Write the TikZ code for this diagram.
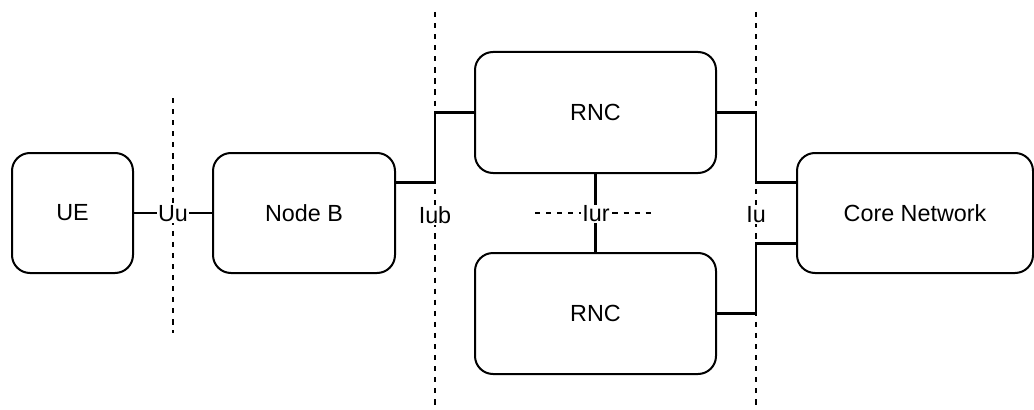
\documentclass[tikz,border=0pt]{standalone}
\usepackage{fontspec}
\setmainfont{Liberation Sans}
\usetikzlibrary{calc}
\begin{document}
\begin{tikzpicture}[x=0.75pt,y=-0.75pt,
  box/.style={draw=black,line width=1.5pt,rounded corners=13.5pt,fill=white,
    align=center,inner sep=0pt,font=\fontsize{17.5}{21}\selectfont},
  conn/.style={draw=black,line width=1.8pt},
  divider/.style={draw=black,line width=1.4pt,dash pattern=on 3.9pt off 4.4pt},
  lbl/.style={fill=white,inner sep=0.8pt,font=\fontsize{17.5}{21}\selectfont}]
\useasboundingbox (0,0) rectangle (1034,410);

% interface boundaries
\coordinate (uuT) at (173,98);  \coordinate (uuB) at (173,333);
\coordinate (iubT) at (435,12); \coordinate (iubB) at (435,410);
\coordinate (iuT) at (756,12);  \coordinate (iuB) at (756,410);
\coordinate (iurL) at (535,213); \coordinate (iurR) at (652,213);
\draw[divider] (uuT) -- (uuB);
\draw[divider] (iubT) -- (iubB);
\draw[divider] (iuT) -- (iuB);
\draw[divider] (iurL) -- (iurR);

% network elements
\node[box,minimum width=90.75pt,minimum height=90pt] (ue) at (72.5,213) {UE};
\node[box,minimum width=136.5pt,minimum height=90pt] (nodeb) at (304,213) {Node B};
\node[box,minimum width=180.75pt,minimum height=90.75pt] (rnc1) at (595.5,112.5) {RNC};
\node[box,minimum width=180.75pt,minimum height=90.75pt] (rnc2) at (595.5,313.5) {RNC};
\node[box,minimum width=177pt,minimum height=90pt] (cn) at (915,213) {Core Network};

% links
\draw[conn] (ue.east) -- (nodeb.west);
\draw[conn] ($(nodeb.north east)!0.25!(nodeb.south east)$) -| (rnc1.west -| iubT) -- (rnc1.west);
\draw[conn] (rnc1.south) -- (rnc2.north);
\draw[conn] (rnc1.east) -- (rnc1.east -| iuT) |- ($(cn.north west)!0.25!(cn.south west)$);
\draw[conn] (rnc2.east) -- (rnc2.east -| iuT) |- ($(cn.north west)!0.75!(cn.south west)$);

% interface labels
\node[lbl] (uu) at (173,214) {Uu};
\node[lbl] (iub) at (435,215) {Iub};
\node[lbl] (iur) at (596,214) {Iur};
\node[lbl] (iu) at (756,215) {Iu};
\end{tikzpicture}
\end{document}
